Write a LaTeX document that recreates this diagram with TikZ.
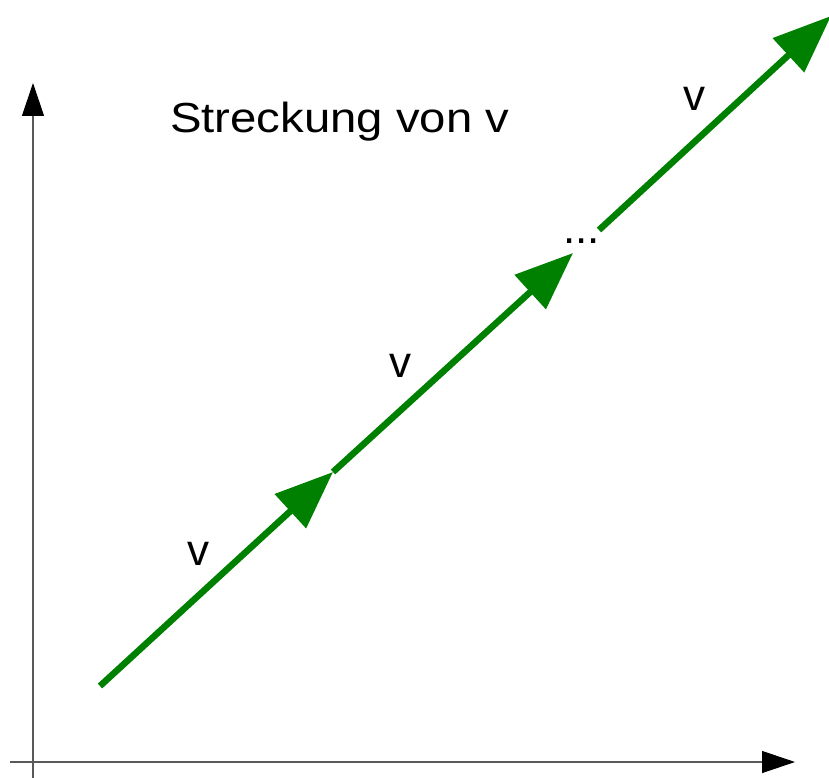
\documentclass[tikz,border=0pt]{standalone}
\usepackage{fontspec}
\setmainfont{Liberation Sans}
\usetikzlibrary{arrows.meta}
\begin{document}
\begin{tikzpicture}[x=1pt,y=-1pt,
  axis/.style={line width=1.2pt,draw=black!65,-{Triangle[length=33pt,width=22pt,color=black]}},
  vec/.style={line width=6.5pt,draw=green!50!black,-{Triangle[length=58pt,width=45pt]}},
  lbl/.style={font=\fontsize{44}{52}\selectfont,inner sep=0pt}]
\useasboundingbox (0,0) rectangle (829,778);
\clip (0,0) rectangle (829,778);
% axes
\coordinate (ybot) at (33,780);
\coordinate (ytop) at (33,83);
\coordinate (xleft) at (10,762);
\coordinate (xright) at (795,762);
\draw[axis] (ybot) -- (ytop);
\draw[axis] (xleft) -- (xright);
% vectors
\coordinate (A) at (100,686);
\coordinate (B) at (333,472);
\coordinate (C) at (573,253);
\coordinate (D) at (599,230);
\coordinate (E) at (831,16);
\draw[vec] (A) -- (B);
\draw[vec] (B) -- (C);
\draw[vec] (D) -- (E);
% labels
\node[lbl,anchor=base west] (title) at (170,133) {\scalebox{1.075}[0.955]{Streckung von v}};
\node[lbl] (v1) at (198,554) {v};
\node[lbl] (v2) at (400,366) {v};
\node[lbl] (v3) at (694,99) {v};
\node[lbl,anchor=base west] (dots) at (563,243) {...};
\end{tikzpicture}
\end{document}
